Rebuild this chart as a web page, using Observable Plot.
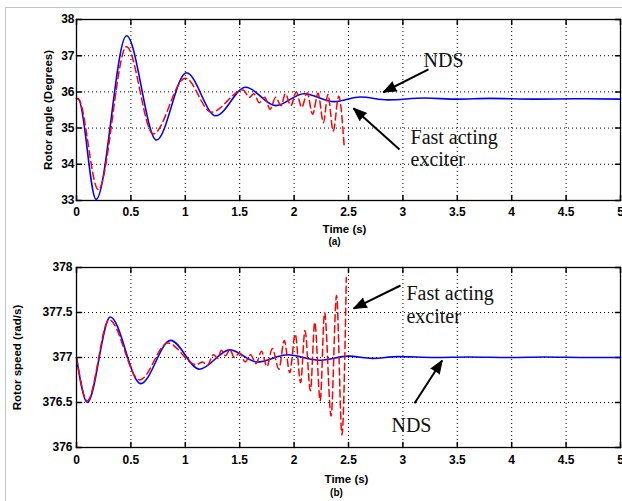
<!DOCTYPE html>
<html><head><meta charset="utf-8">
<script src="https://cdn.jsdelivr.net/npm/d3@7"></script>
<script src="https://cdn.jsdelivr.net/npm/@observablehq/plot@0.6"></script>
<style>
html,body{margin:0;padding:0;background:#fff;}
#wrap{position:relative;width:622px;height:501px;overflow:hidden;background:#fff;}
#border{position:absolute;left:5px;top:7px;width:700px;height:600px;border:1px solid #c4c4c4;z-index:5;}
#top,#bottom{position:absolute;left:0;}
#top{top:0;} #bottom{top:250px;}
</style></head><body>
<div id="wrap"><div id="top"></div><div id="bottom"></div><div id="border"></div></div>
<script>
// ---- data ----
const xTicks = [0,0.5,1,1.5,2,2.5,3,3.5,4,4.5,5];
const angleTicks = [33,34,35,36,37,38];
const speedTicks = [376,376.5,377,377.5,378];

// Rotor angle, NDS (blue)
const angleNdsT = [0,0.02,0.18,0.46,0.735,1.01,1.28,1.555,1.83,2.09,2.37,2.61,2.86,3.2,3.5,3.8,4.2,4.6,5];
const angleNdsV = [35.82,35.8,33.03,37.55,34.67,36.53,35.34,36.13,35.62,35.95,35.73,35.86,35.78,35.83,35.8,35.82,35.8,35.81,35.8];
// Rotor angle, fast acting exciter (red dashed)
const angleFaT = [0,0.02,0.2,0.46,0.705,1.0,1.24,1.53,1.59,1.63,1.68,1.73,1.78,1.83,1.88,1.92,1.97,2.02,2.07,2.12,2.17,2.22,2.27,2.31,2.36,2.41,2.46];
const angleFaV = [35.82,35.8,33.3,37.25,34.84,36.38,35.44,36.05,35.85,35.95,35.70,35.85,35.52,35.85,35.62,35.95,35.62,36.0,35.57,35.97,35.38,35.96,35.15,35.93,34.92,35.88,34.52];

// Rotor speed, NDS (blue)
const speedNdsT = [0,0.1,0.31,0.59,0.865,1.13,1.41,1.66,1.94,2.23,2.5,2.72,2.95,3.3,3.6,4.0,4.3,4.7,5];
const speedNdsV = [377,376.5,377.45,376.71,377.19,376.87,377.085,376.95,377.03,376.97,377.015,376.99,377.01,377.0,377.005,377.0,377.005,377.0,377.0];
// Rotor speed, fast acting exciter (red dashed)
const speedFaT = [0,0.1,0.3,0.58,0.84,1.1,1.16,1.2,1.26,1.3,1.33,1.37,1.41,1.45,1.5,1.55,1.6,1.65,1.7,1.75,1.8,1.86,1.91,1.96,2.01,2.06,2.10,2.15,2.19,2.24,2.28,2.34,2.39,2.44,2.48];
const speedFaV = [377,376.52,377.42,376.75,377.16,376.92,376.95,376.91,377.03,376.99,377.08,377.02,377.09,377.0,377.05,376.95,377.03,376.93,377.07,376.9,377.1,376.87,377.19,376.83,377.26,376.72,377.30,376.63,377.39,376.52,377.50,376.35,377.69,376.14,377.89];

// annotations (data coordinates)
const angleNotes = [{t:3.19, v:37.12, label:"NDS"}, {t:3.07, v:35.0, label:"Fast acting\nexciter"}];
const angleArrows = [{t1:3.235, v1:36.62, t2:2.819, v2:35.99}, {t1:2.969, v1:34.41, t2:2.546, v2:35.55}];
const speedNotes = [{t:3.033, v:377.813, label:"Fast acting\nexciter"}, {t:2.895, v:376.347, label:"NDS"}];
const speedArrows = [{t1:2.978, v1:377.8, t2:2.546, v2:377.544}, {t1:3.107, v1:376.492, t2:3.361, v2:376.967}];

const tickShape = {draw(ctx, l){ ctx.moveTo(0,0); ctx.lineTo(0,-l); }};
const serif = "'Liberation Serif','Times New Roman',serif";

function panel(o){
  const W = 622, ML = 76, MR = 2;
  const xs = d3.scaleLinear([0,5],[ML, W-MR]);
  const ys = d3.scaleLinear(o.yDomain,[o.height - o.marginBottom, o.marginTop]);
  const nds = o.ndsT.map((t,i)=>({t, v:o.ndsV[i]}));
  const fa = o.faT.map((t,i)=>({t, v:o.faV[i]}));
  const arrows = o.arrows.map(a=>({...a, angle: Math.atan2(xs(a.t2)-xs(a.t1), -(ys(a.v2)-ys(a.v1)))*180/Math.PI}));
  const [y0,y1] = o.yDomain;
  return Plot.plot({
    width: W, height: o.height, marginLeft: ML, marginRight: MR, marginTop: o.marginTop, marginBottom: o.marginBottom,
    style: {fontFamily: "'Liberation Sans',Arial,sans-serif", fontSize: "12px", fontWeight: "bold", background: "white", color: "black"},
    x: {domain: [0,5]},
    y: {domain: o.yDomain},
    marks: [
      Plot.gridX(xTicks, {stroke: "black", strokeOpacity: 1, strokeWidth: 1, strokeDasharray: "1,3"}),
      Plot.gridY(o.yTicks, {stroke: "black", strokeOpacity: 1, strokeWidth: 1, strokeDasharray: "1,3"}),
      Plot.axisX(xTicks, {tickSize: 0, tickPadding: o.xPad, tickFormat: d => String(d), label: null, fontWeight: "bold", fontSize: 12}),
      Plot.axisY(o.yTicks, {tickSize: 0, tickPadding: o.yPad, tickFormat: d => String(d), label: null, fontWeight: "bold", fontSize: 12}),
      Plot.vector(xTicks, {x: d=>d, y: y0, length: 5, rotate: 0, anchor: "start", shape: tickShape, stroke: "black"}),
      Plot.vector(xTicks, {x: d=>d, y: y1, length: 5, rotate: 180, anchor: "start", shape: tickShape, stroke: "black"}),
      Plot.vector(o.yTicks, {x: 0, y: d=>d, length: 5, rotate: 90, anchor: "start", shape: tickShape, stroke: "black"}),
      Plot.vector(o.yTicks, {x: 5, y: d=>d, length: 5, rotate: -90, anchor: "start", shape: tickShape, stroke: "black"}),
      Plot.line(nds, {x: "t", y: "v", curve: "monotone-x", stroke: "#0000ff", strokeWidth: 1.6}),
      Plot.line(fa, {x: "t", y: "v", curve: "monotone-x", stroke: "#ff0000", strokeWidth: 1.5, strokeDasharray: "7,4"}),
      Plot.frame({stroke: "black", strokeWidth: 1.3}),
      Plot.link(arrows, {x1: "t1", y1: "v1", x2: "t2", y2: "v2", stroke: "black", strokeWidth: 2}),
      Plot.vector(arrows, {x: "t2", y: "v2", rotate: "angle", length: 13, anchor: "end", shape: "spike", r: 5, fill: "black", stroke: "black", strokeWidth: 1}),
      Plot.text(o.notes, {x: "t", y: "v", text: "label", textAnchor: "start", lineAnchor: "top", lineHeight: 1.12, fontFamily: serif, fontSize: 20, fontWeight: "normal", fill: "#111"}),
      Plot.text([o.yLabel], {text: d=>d, frameAnchor: "left", textAnchor: "middle", rotate: -90, dx: o.yLabelDx, fontWeight: "bold", fontSize: 11.5}),
      Plot.text(["Time (s)"], {text: d=>d, frameAnchor: "bottom", dy: o.timeDy, dx: o.timeDx, fontWeight: "bold", fontSize: 11.5}),
      Plot.text([o.caption], {text: d=>d, frameAnchor: "bottom", dy: o.capDy, dx: o.capDx, fontWeight: "bold", fontSize: 10})
    ]
  });
}

document.getElementById("top").append(panel({
  ndsT: angleNdsT, ndsV: angleNdsV, faT: angleFaT, faV: angleFaV,
  yDomain: [33,38], yTicks: angleTicks, yLabel: "Rotor angle (Degrees)",
  height: 250, marginTop: 19, marginBottom: 50, xPad: 7, yPad: 2,
  yLabelDx: -28.5, timeDy: 32, timeDx: -4, capDy: 44.5, capDx: -14, caption: "(a)",
  notes: angleNotes, arrows: angleArrows
}));
document.getElementById("bottom").append(panel({
  ndsT: speedNdsT, ndsV: speedNdsV, faT: speedFaT, faV: speedFaV,
  yDomain: [376,378], yTicks: speedTicks, yLabel: "Rotor speed (rad/s)",
  height: 251, marginTop: 17, marginBottom: 54, xPad: 8, yPad: 4,
  yLabelDx: -59, timeDy: 35.5, timeDx: -2, capDy: 48, capDx: -12, caption: "(b)",
  notes: speedNotes, arrows: speedArrows
}));
</script>
</body></html>
